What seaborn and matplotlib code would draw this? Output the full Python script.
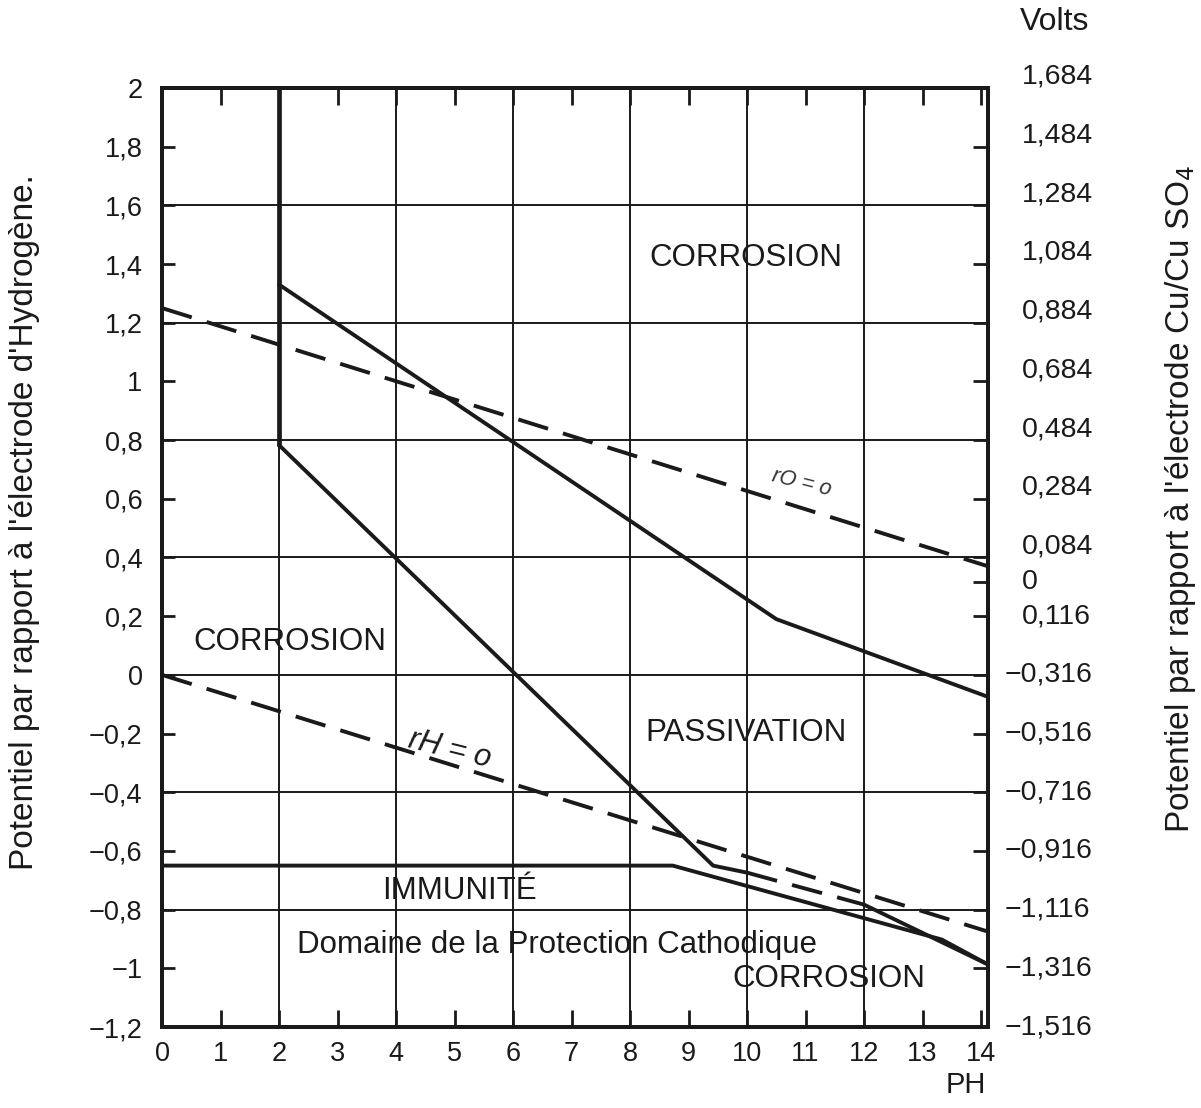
import numpy as np
import pandas as pd
import matplotlib
matplotlib.use("Agg")
import matplotlib.pyplot as plt
import matplotlib.transforms as mtransforms
import seaborn as sns

# values (pH, potential in volts vs SHE)
upper_ph = [2.0, 10.5, 14.12]
upper_v = [1.33, 0.19, -0.075]

wall_ph = [2.0, 2.0]
wall_v = [2.0, 0.783]

passiv_ph = [2.0, 9.42, 10.0]
passiv_v = [0.783, -0.65, -0.674]
passiv_dash_ph = [10.0, 12.0]
passiv_dash_v = [-0.674, -0.783]
passiv_end_ph = [12.0, 14.12]
passiv_end_v = [-0.783, -0.987]

immun_ph = [0.0, 8.73, 13.33, 14.12]
immun_v = [-0.65, -0.65, -0.902, -0.987]

ro_ph = [0.0, 14.12]
ro_v = [1.25, 0.37]
rh_ph = [0.0, 14.12]
rh_v = [0.0, -0.875]

ph_ticks = list(range(0, 15))
ph_grid = [2, 4, 6, 8, 10, 12]
v_ticks = [2.0, 1.8, 1.6, 1.4, 1.2, 1.0, 0.8, 0.6, 0.4, 0.2, 0.0,
           -0.2, -0.4, -0.6, -0.8, -1.0, -1.2]
v_labels = ["2", "1,8", "1,6", "1,4", "1,2", "1", "0,8", "0,6", "0,4", "0,2", "0",
            "\u22120,2", "\u22120,4", "\u22120,6", "\u22120,8", "\u22121", "\u22121,2"]
v_grid = [1.6, 1.2, 0.8, 0.4, 0.0, -0.4, -0.8]

cu_ticks = [2.0, 1.8, 1.6, 1.4, 1.2, 1.0, 0.8, 0.6, 0.4, 0.316, 0.2, 0.0,
            -0.2, -0.4, -0.6, -0.8, -1.0, -1.2]
cu_labels = ["1,684", "1,484", "1,284", "1,084", "0,884", "0,684", "0,484", "0,284",
             "0,084", "0", "0,116", "\u22120,316", "\u22120,516", "\u22120,716",
             "\u22120,916", "\u22121,116", "\u22121,316", "\u22121,516"]

regions = [
    ("CORROSION", 9.98, 1.42),
    ("CORROSION", 2.18, 0.112),
    ("PASSIVATION", 9.98, -0.197),
    ("IMMUNITÉ", 5.09, -0.735),
    ("Domaine de la Protection Cathodique", 6.76, -0.919),
    ("CORROSION", 11.4, -1.038),
]

sns.set_style("ticks")
plt.rcParams['font.family'] = ['Liberation Sans', 'DejaVu Sans']
plt.rcParams['axes.unicode_minus'] = True

fig = plt.figure(figsize=(12.01, 11.08), dpi=100)
ax = fig.add_axes([0.1349, 0.0731, 0.6878, 0.8475])

ink = "#1a1a1a"
lw = 2.8

for g in ph_grid:
    ax.axvline(g, color=ink, lw=1.4, zorder=1)
for g in v_grid:
    ax.axhline(g, color=ink, lw=1.4, zorder=1)

solid = [(upper_ph, upper_v), (passiv_ph, passiv_v),
         (passiv_end_ph, passiv_end_v), (immun_ph, immun_v)]
for xs, ys in solid:
    df = pd.DataFrame({"pH": xs, "V": ys})
    sns.lineplot(data=df, x="pH", y="V", sort=False, estimator=None,
                 color=ink, lw=lw, ax=ax, zorder=3)

sns.lineplot(data=pd.DataFrame({"pH": wall_ph, "V": wall_v}), x="pH", y="V",
             sort=False, estimator=None, color=ink, lw=3.4, ax=ax, zorder=3)

dashed = [(ro_ph, ro_v), (rh_ph, rh_v), (passiv_dash_ph, passiv_dash_v)]
for xs, ys in dashed:
    df = pd.DataFrame({"pH": xs, "V": ys})
    sns.lineplot(data=df, x="pH", y="V", sort=False, estimator=None,
                 color=ink, lw=lw, linestyle=(0, (8, 4)), ax=ax, zorder=3)

for txt, x, y in regions:
    ax.text(x, y, txt, ha="center", va="center", fontsize=22.5, color=ink)

ax.text(10.93, 0.655, "rO = o", ha="center", va="center", fontsize=15.5,
        style="italic", rotation=-14, color="#333333")
ax.text(4.92, -0.255, "rH = o", ha="center", va="center", fontsize=22,
        style="italic", rotation=-14, color=ink)

ax.set_xlim(0, 14.12)
ax.set_ylim(-1.2, 2.0)
ax.set_xticks(ph_ticks)
ax.set_xticklabels([str(t) for t in ph_ticks])
ax.set_yticks(v_ticks)
ax.set_yticklabels(v_labels)
ax.set_xlabel("")
ax.set_ylabel("")
ax.tick_params(axis="x", direction="in", length=12, width=2, labelsize=19.5,
               pad=10, top=True, colors=ink)
ax.tick_params(axis="y", direction="in", length=9, width=2, labelsize=19.5,
               pad=14, colors=ink)
for s in ax.spines.values():
    s.set_linewidth(2.8)
    s.set_color(ink)

ax2 = ax.twinx()
ax2.set_ylim(-1.2, 2.0)
ax2.set_yticks(cu_ticks)
ax2.set_yticklabels([])
ax2.tick_params(axis="y", direction="in", length=11, width=2, colors=ink)
for s in ax2.spines.values():
    s.set_linewidth(2.8)
    s.set_color(ink)

# right-hand Cu/CuSO4 scale; labels above the 0 mark sit a little high in the scan
base = mtransforms.blended_transform_factory(ax2.transAxes, ax2.transData)
for val, lab in zip(cu_ticks, cu_labels):
    lift = 8 if val > 0.35 else 0
    dx = 12 if lab.startswith("\u2212") else 24
    tr = base + mtransforms.ScaledTranslation(dx / 72, lift / 72, fig.dpi_scale_trans)
    ax2.text(1.0, val, lab, transform=tr, ha="left", va="center",
             fontsize=20.5, color=ink, clip_on=False)

fig.text(25 / 1201, 1 - 522 / 1108, "Potentiel par rapport à l'électrode d'Hydrogène.",
         rotation=90, ha="center", va="center", fontsize=24, color=ink)
fig.text(1180 / 1201, 1 - 499 / 1108,
         "Potentiel par rapport à l'électrode Cu/Cu SO$_4$",
         rotation=90, ha="center", va="center", fontsize=24, color=ink)
fig.text(1055 / 1201, 1 - 22 / 1108, "Volts", ha="center", va="center",
         fontsize=23, color=ink)
fig.text(966 / 1201, 1 - 1085 / 1108, "PH", ha="center", va="center",
         fontsize=21, color=ink)

fig.savefig("out.png", dpi=100, facecolor="white")
